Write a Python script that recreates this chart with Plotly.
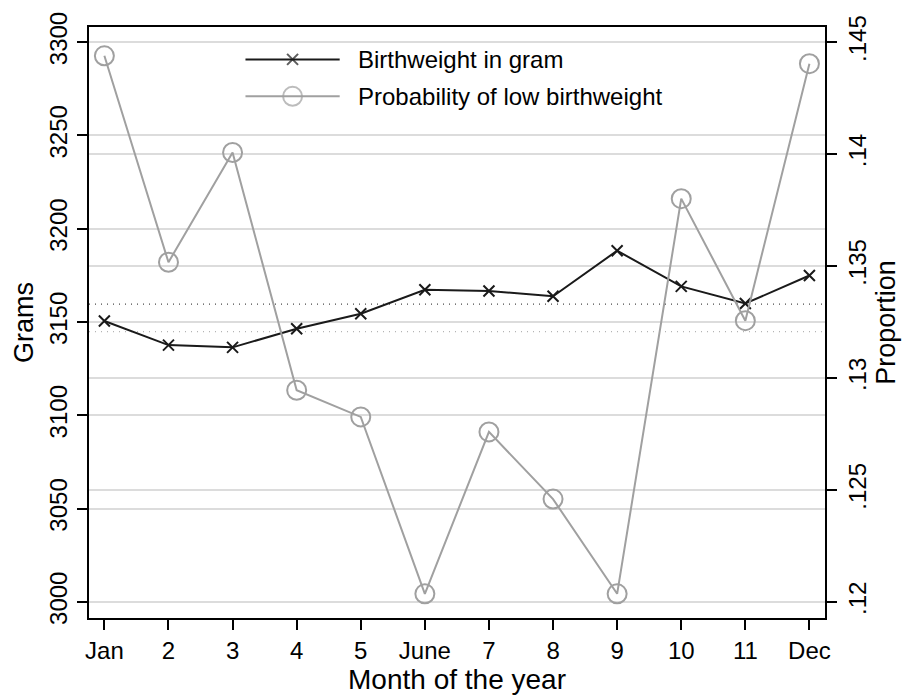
import numpy as np
import plotly.graph_objects as go

# Monthly birth outcomes
months = list(range(1, 13))
month_labels = ["Jan", "2", "3", "4", "5", "June", "7", "8", "9", "10", "11", "Dec"]
birthweight_g = [3150.5, 3137.6, 3136.4, 3146.4, 3154.4, 3167.3,
                 3166.6, 3163.8, 3188.2, 3169.1, 3159.9, 3174.9]
prob_low_bw = [0.14439, 0.13517, 0.14007, 0.12945, 0.12826, 0.12036,
               0.12759, 0.12459, 0.12036, 0.13801, 0.13256, 0.14404]

gram_ticks = [3000, 3050, 3100, 3150, 3200, 3250, 3300]
prop_ticks = [0.12, 0.125, 0.13, 0.135, 0.14, 0.145]
prop_tick_text = [".12", ".125", ".13", ".135", ".14", ".145"]

FONT = "Liberation Sans, Arial, Helvetica, sans-serif"
BLACK = "#1a1a1a"
GREY = "#a0a0a0"
GRID = "#dcdcdc"

fig = go.Figure()

fig.add_trace(go.Scatter(
    x=months, y=birthweight_g, mode="lines+markers",
    line=dict(color=BLACK, width=2),
    marker=dict(symbol="x-thin", size=11, line=dict(color=BLACK, width=2)),
    showlegend=False, yaxis="y",
))
fig.add_trace(go.Scatter(
    x=months, y=prob_low_bw, mode="lines+markers",
    line=dict(color=GREY, width=2),
    marker=dict(symbol="circle-open", size=19, color=GREY, line=dict(color=GREY, width=2)),
    showlegend=False, yaxis="y2",
))

# Dotted reference lines at the series means
fig.add_shape(type="line", xref="paper", x0=0, x1=1, yref="y",
              y0=np.mean(birthweight_g), y1=np.mean(birthweight_g),
              line=dict(color="#4a4a4a", width=1.2, dash="1px,5px"), layer="between")
fig.add_shape(type="line", xref="paper", x0=0, x1=1, yref="y2",
              y0=np.mean(prob_low_bw), y1=np.mean(prob_low_bw),
              line=dict(color="#b4b4b4", width=1.2, dash="1px,5px"), layer="between")

# Legend box (white, over the grid)
fig.add_shape(type="rect", xref="paper", yref="paper", x0=0.198, x1=0.802,
              y0=0.85, y1=0.995, fillcolor="white", line=dict(width=0), layer="between")

# Legend samples drawn on a hidden unit overlay axis
leg_x = [0.2126, 0.2766, 0.3406]
leg_y1, leg_y2 = 0.9452, 0.8827
fig.add_trace(go.Scatter(
    x=leg_x, y=[leg_y1] * 3, mode="lines+markers", xaxis="x3", yaxis="y3",
    line=dict(color=BLACK, width=2),
    marker=dict(symbol="x-thin", size=[0, 11, 0], line=dict(color=BLACK, width=2)),
    showlegend=False, hoverinfo="skip",
))
fig.add_trace(go.Scatter(
    x=leg_x, y=[leg_y2] * 3, mode="lines+markers", xaxis="x3", yaxis="y3",
    line=dict(color=GREY, width=2),
    marker=dict(symbol="circle-open", size=[0, 19, 0], color=GREY,
                line=dict(color=GREY, width=2)),
    showlegend=False, hoverinfo="skip",
))
for txt, yy in [("Birthweight in gram", leg_y1), ("Probability of low birthweight", leg_y2)]:
    fig.add_annotation(x=0.3632, y=yy, xref="paper", yref="paper", text=txt,
                       showarrow=False, xanchor="left", yanchor="middle",
                       font=dict(family=FONT, size=24, color="black"))

axis_common = dict(
    showline=True, linecolor="black", linewidth=2,
    ticks="outside", ticklen=10, tickwidth=1.5, tickcolor="black",
    tickfont=dict(family=FONT, size=24, color="black"),
    zeroline=False,
)

fig.update_layout(
    width=906, height=699,
    margin=dict(l=89, r=80, t=24, b=78),
    paper_bgcolor="white", plot_bgcolor="white",
    font=dict(family=FONT, color="black"),
    xaxis=dict(
        range=[0.76, 12.243], tickvals=months, ticktext=month_labels,
        showgrid=False, mirror=True,
        title=dict(text="Month of the year", font=dict(family=FONT, size=28), standoff=4),
        **axis_common,
    ),
    yaxis=dict(
        range=[2991.35, 3308.1], tickvals=gram_ticks, tickangle=-90,
        showgrid=True, gridcolor=GRID, gridwidth=2,
        title=dict(text="Grams", font=dict(family=FONT, size=27), standoff=4),
        **axis_common,
    ),
    yaxis2=dict(
        range=[0.119279, 0.145677], tickvals=prop_ticks, ticktext=prop_tick_text,
        tickangle=-90, overlaying="y", side="right",
        showgrid=True, gridcolor=GRID, gridwidth=2,
        title=dict(text="Proportion", font=dict(family=FONT, size=27), standoff=4),
        **axis_common,
    ),
    xaxis3=dict(range=[0, 1], overlaying="x", visible=False, anchor="y3"),
    yaxis3=dict(range=[0, 1], overlaying="y", visible=False, anchor="x3"),
)

fig.write_html("out.html")
